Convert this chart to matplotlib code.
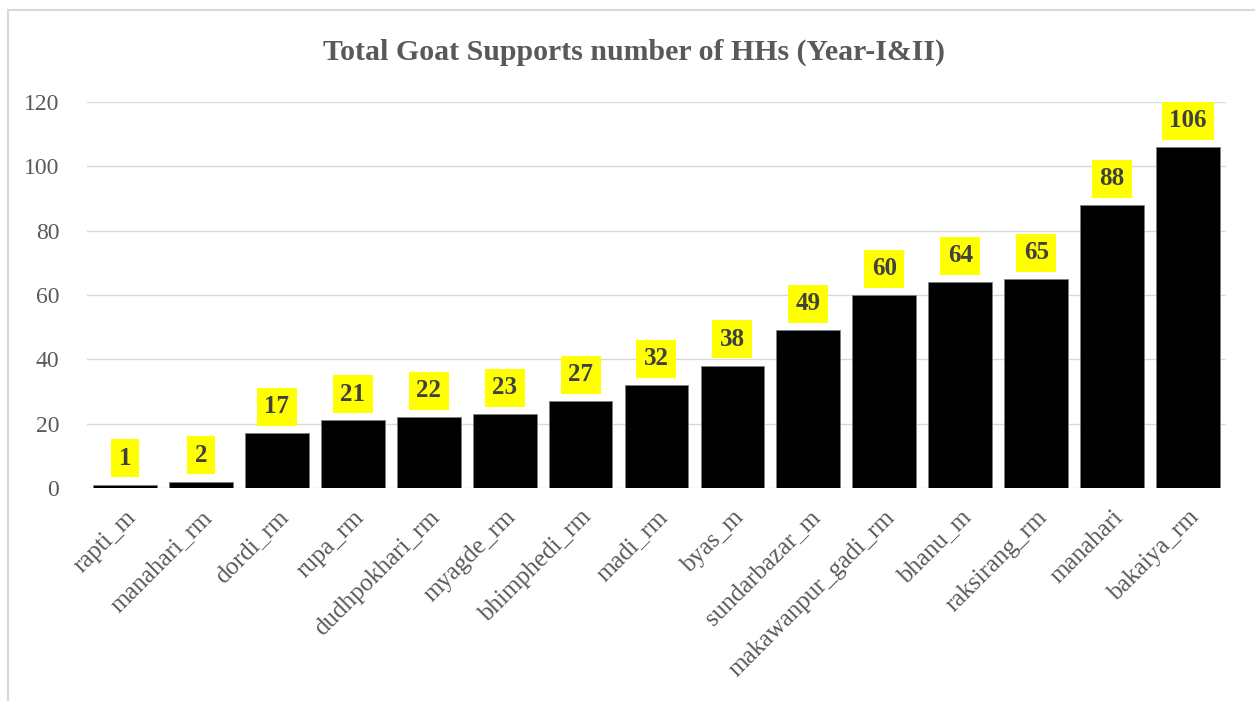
import numpy as np
import matplotlib.pyplot as plt
from matplotlib.lines import Line2D

plt.rcParams['font.family'] = ['Liberation Serif', 'DejaVu Serif']

places = ['rapti_m', 'manahari_rm', 'dordi_rm', 'rupa_rm', 'dudhpokhari_rm',
          'myagde_rm', 'bhimphedi_rm', 'madi_rm', 'byas_m', 'sundarbazar_m',
          'makawanpur_gadi_rm', 'bhanu_m', 'raksirang_rm', 'manahari', 'bakaiya_rm']
households = [1, 2, 17, 21, 22, 23, 27, 32, 38, 49, 60, 64, 65, 88, 106]
yticks = [0, 20, 40, 60, 80, 100, 120]

fig, ax = plt.subplots(figsize=(12.55, 7.01), dpi=100)
plt.subplots_adjust(left=0.0693, right=0.9769, bottom=0.3039, top=0.8545)

x = np.arange(len(places))
ax.bar(x, households, width=0.84, color='black', edgecolor='#7f7f7f', linewidth=0.6, zorder=3)

for xi, v in zip(x, households):
    ax.annotate(str(v), (xi, v), xytext=(0, 19), textcoords='offset points',
                ha='center', va='center', fontsize=18, fontweight='bold', color='#404040',
                bbox=dict(boxstyle='square,pad=0.3', facecolor='yellow', edgecolor='none'))

ax.set_xlim(-0.5, len(places) - 0.5)
ax.set_ylim(0, 120)
ax.set_yticks(yticks)
ax.yaxis.grid(True, color='#d9d9d9', linewidth=1)
ax.set_axisbelow(True)
for s in ax.spines.values():
    s.set_visible(False)
ax.tick_params(length=0, labelsize=17, labelcolor='#595959')
ax.tick_params(axis='x', labelsize=18, pad=13)
ax.tick_params(axis='y', pad=20)
ax.set_xticks(x)
ax.set_xticklabels(places, rotation=45, ha='right', rotation_mode='anchor')

fig.suptitle('Total Goat Supports number of HHs (Year-I&II)', x=0.505, y=0.945,
             fontsize=21.5, fontweight='bold', color='#595959')

# frame edge of the original chart area
fig.add_artist(Line2D([0.0065, 0.0065], [0, 0.986], transform=fig.transFigure, color='#d9d9d9', lw=1.5))
fig.add_artist(Line2D([0.0065, 1], [0.986, 0.986], transform=fig.transFigure, color='#d9d9d9', lw=1.5))

fig.savefig('out.png', dpi=100)
